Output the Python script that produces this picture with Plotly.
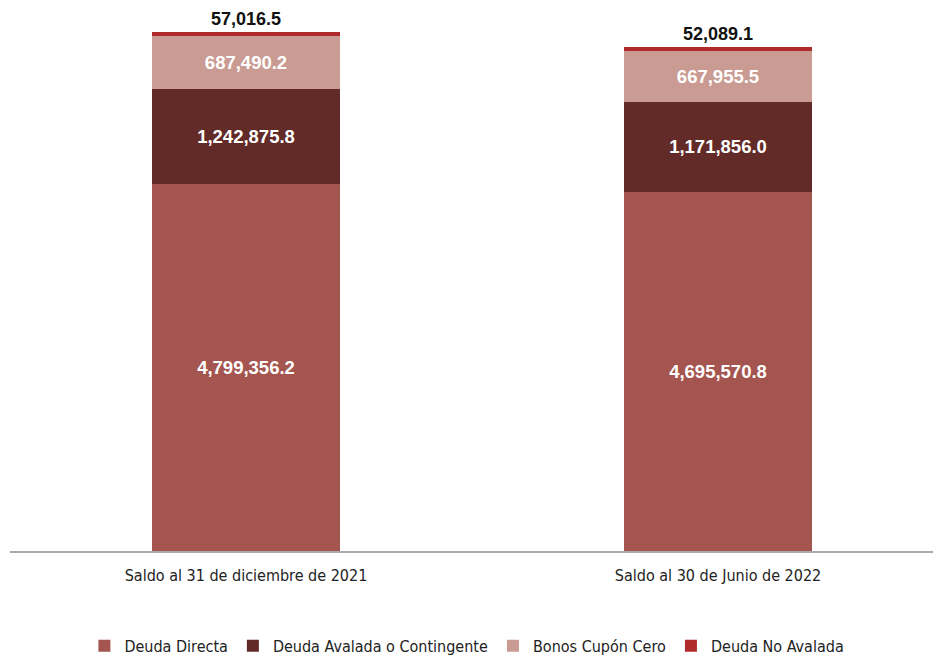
import plotly.graph_objects as go

categories = ["Saldo al 31 de diciembre de 2021", "Saldo al 30 de Junio de 2022"]
series_names = ["Deuda Directa", "Deuda Avalada o Contingente", "Bonos Cupón Cero", "Deuda No Avalada"]
deuda_directa = [4799356.2, 4695570.8]
deuda_avalada = [1242875.8, 1171856.0]
bonos_cupon = [687490.2, 667955.5]
deuda_no_avalada = [57016.5, 52089.1]

colors = ["#A4554F", "#622B27", "#C99B92", "#B02A2C"]
values = [deuda_directa, deuda_avalada, bonos_cupon, deuda_no_avalada]

narrow = "DejaVu Sans Condensed, Roboto, sans-serif"
bold = "Liberation Sans, Arial, sans-serif"

fig = go.Figure()
for i, (name, vals) in enumerate(zip(series_names, values)):
    last = i == len(values) - 1
    fig.add_trace(go.Bar(
        x=categories, y=vals, name=name,
        marker=dict(color=colors[i], line=dict(width=0)),
        text=[f"{v:,.1f}" for v in vals],
        texttemplate="%{text}",
        textposition="outside" if last else "inside",
        insidetextanchor="middle",
        textfont=dict(family=bold, size=18 if last else 18.5,
                      color="#111111" if last else "white", weight="bold"),
        outsidetextfont=dict(family=bold, size=18, color="#111111", weight="bold"),
        cliponaxis=False,
        hoverinfo="skip",
    ))

fig.update_layout(
    barmode="stack",
    bargap=0.6,
    width=950, height=658,
    margin=dict(l=2, r=4, t=19, b=115, autoexpand=False),
    plot_bgcolor="white", paper_bgcolor="white",
    font=dict(family=narrow, size=16, color="#222222"),
    legend=dict(orientation="h", x=0.484, xanchor="center", y=-0.181, yanchor="middle",
                font=dict(family=narrow, size=16, color="#222222"),
                itemwidth=30, traceorder="normal"),
    xaxis=dict(showline=True, linecolor="#AAAAAA", linewidth=1.5, ticks="",
               ticklabelstandoff=9, automargin=False,
               tickfont=dict(family=narrow, size=16, color="#222222")),
    yaxis=dict(visible=False, range=[0, 6.85e6], showgrid=False),
)

fig.write_html("out.html")
